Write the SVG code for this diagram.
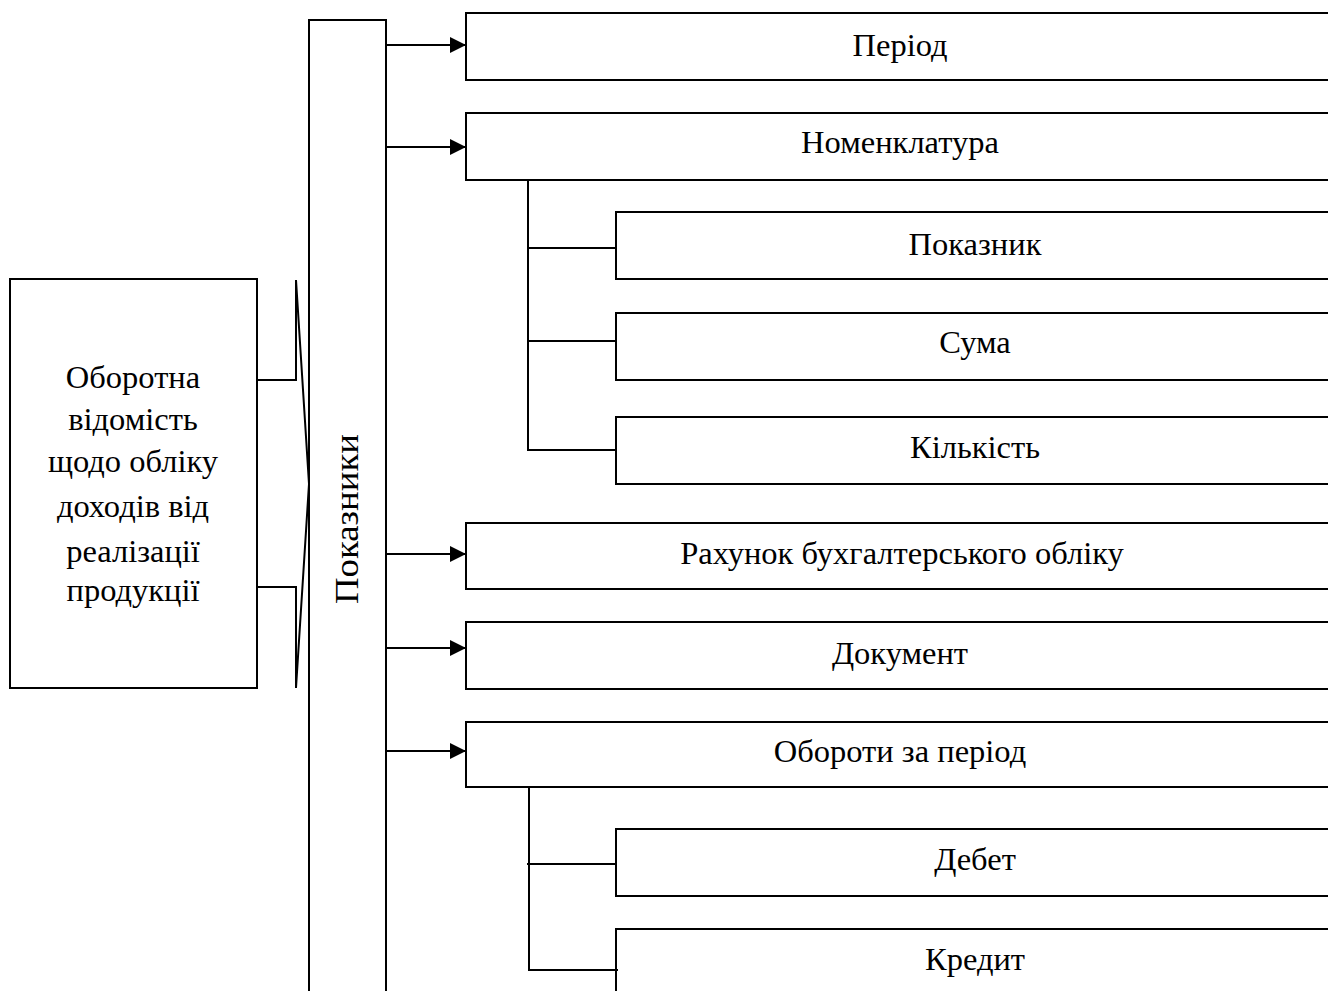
<svg xmlns="http://www.w3.org/2000/svg" width="1328" height="991" viewBox="0 0 1328 991">
<style>
.box{fill:#fff;stroke:#000;stroke-width:2}
.ln{fill:none;stroke:#000;stroke-width:2}
text{font-family:"Liberation Serif","Times New Roman",serif;font-size:32.5px;fill:#000;text-anchor:middle}
</style>
<defs>
<marker id="ah" markerWidth="16" markerHeight="16" refX="16" refY="8" orient="auto" markerUnits="userSpaceOnUse">
<path d="M0,0 L16,8 L0,16 Z" fill="#000"/>
</marker>
</defs>
<rect width="1328" height="991" fill="#fff"/>
<g id="source">
<rect class="box" x="10" y="279" width="247" height="409"/>
<text x="133" y="388">Оборотна</text>
<text x="133" y="430">відомість</text>
<text x="133" y="472">щодо обліку</text>
<text x="133" y="517">доходів від</text>
<text x="133" y="562">реалізації</text>
<text x="133" y="601">продукції</text>
</g>
<g id="pokaznyky">
<rect class="box" x="309" y="20" width="77" height="990"/>
<text transform="translate(358,519) rotate(-90)" style="font-size:34px" textLength="170" lengthAdjust="spacingAndGlyphs" x="0" y="0">Показники</text>
</g>
<g id="period"><rect class="box" x="466" y="13" width="880" height="67"/><text x="900" y="56">Період</text></g>
<g id="nomenklatura"><rect class="box" x="466" y="113" width="880" height="67"/><text x="900" y="153">Номенклатура</text></g>
<g id="pokaznyk"><rect class="box" x="616" y="212" width="730" height="67"/><text x="975" y="255">Показник</text></g>
<g id="suma"><rect class="box" x="616" y="313" width="730" height="67"/><text x="975" y="353">Сума</text></g>
<g id="kilkist"><rect class="box" x="616" y="417" width="730" height="67"/><text x="975" y="458">Кількість</text></g>
<g id="rakhunok"><rect class="box" x="466" y="523" width="880" height="66"/><text x="902" y="564">Рахунок бухгалтерського обліку</text></g>
<g id="dokument"><rect class="box" x="466" y="622" width="880" height="67"/><text x="900" y="664">Документ</text></g>
<g id="oboroty"><rect class="box" x="466" y="722" width="880" height="65"/><text x="900" y="762">Обороти за період</text></g>
<g id="debet"><rect class="box" x="616" y="829" width="730" height="67"/><text x="975" y="870">Дебет</text></g>
<g id="kredyt"><rect class="box" x="616" y="929" width="730" height="100"/><text x="975" y="970">Кредит</text></g>
<g id="connectors">
<polyline class="ln" points="257,380 296,380 296,280 309,484 296,688 296,587 257,587"/>
<line class="ln" x1="386" y1="45" x2="466" y2="45" marker-end="url(#ah)"/>
<line class="ln" x1="386" y1="147" x2="466" y2="147" marker-end="url(#ah)"/>
<line class="ln" x1="386" y1="554" x2="466" y2="554" marker-end="url(#ah)"/>
<line class="ln" x1="386" y1="648" x2="466" y2="648" marker-end="url(#ah)"/>
<line class="ln" x1="386" y1="751" x2="466" y2="751" marker-end="url(#ah)"/>
<polyline class="ln" points="528,180 528,450 616,450"/>
<line class="ln" x1="528" y1="248" x2="616" y2="248"/>
<line class="ln" x1="528" y1="341" x2="616" y2="341"/>
<polyline class="ln" points="529,787 529,970 618,970"/>
<line class="ln" x1="527" y1="864" x2="616" y2="864"/>
</g>
</svg>
